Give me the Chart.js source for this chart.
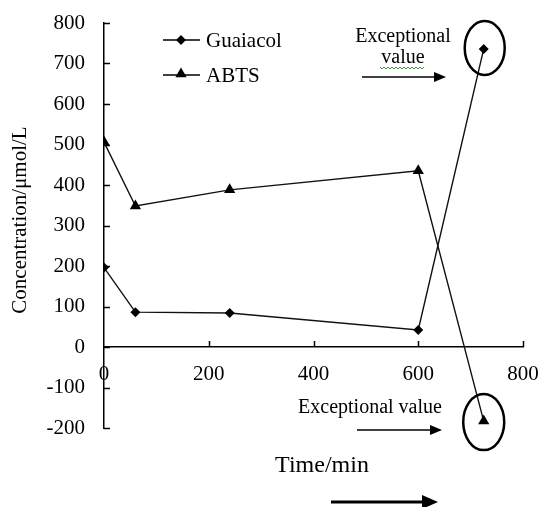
<!DOCTYPE html>
<html>
<head>
<meta charset="utf-8">
<script src="https://cdn.jsdelivr.net/npm/chart.js@4"></script>
<style>
  html, body { margin: 0; padding: 0; background: #fff; }
  #wrap { width: 540px; height: 507px; }
</style>
</head>
<body>
<div id="wrap"><canvas id="myChart" width="540" height="507"></canvas></div>
<script>
// time points (min) and concentrations (umol/L)
const times = [0, 60, 240, 600, 725];
const guaiacol = [196, 86, 84, 42, 736];
const abts = [506, 348, 388, 435, -183];
const seriesNames = ['Guaiacol', 'ABTS'];
const xTicks = [0, 200, 400, 600, 800];
const yTicks = [-200, -100, 0, 100, 200, 300, 400, 500, 600, 700, 800];

const serif = "'Liberation Serif', 'Times New Roman', serif";
const ctx = document.getElementById('myChart');

function toPoints(vals) {
    return vals.map((v, i) => ({ x: times[i], y: v }));
}

function line(c, x1, y1, x2, y2) {
    c.beginPath();
    c.moveTo(x1, y1);
    c.lineTo(x2, y2);
    c.stroke();
}

function arrow(c, x1, x2, y, w, head, hh) {
    c.lineWidth = w;
    line(c, x1, y, x2 - head + 1, y);
    c.beginPath();
    c.moveTo(x2, y);
    c.lineTo(x2 - head, y - hh);
    c.lineTo(x2 - head, y + hh);
    c.closePath();
    c.fill();
}

function diamond(c, x, y, r) {
    c.beginPath();
    c.moveTo(x, y - r);
    c.lineTo(x + r, y);
    c.lineTo(x, y + r);
    c.lineTo(x - r, y);
    c.closePath();
    c.fill();
}

function triangle(c, x, y, r) {
    c.beginPath();
    c.moveTo(x, y - r);
    c.lineTo(x + r * 0.87, y + r * 0.5);
    c.lineTo(x - r * 0.87, y + r * 0.5);
    c.closePath();
    c.fill();
}

const extras = {
    id: 'extras',
    afterDraw(chart) {
        const c = chart.ctx;
        const x = chart.scales.x;
        const y = chart.scales.y;
        c.save();
        c.strokeStyle = '#000';
        c.fillStyle = '#000';
        c.lineWidth = 1.5;

        // inside tick marks
        yTicks.forEach(v => {
            const py = Math.round(y.getPixelForValue(v)) + 0.5;
            line(c, x.left, py, x.left + 6, py);
        });
        const y0 = y.getPixelForValue(0);
        xTicks.forEach(v => {
            if (v === 0) return;
            const px = Math.round(x.getPixelForValue(v)) + 0.5;
            line(c, px, y0, px, y0 - 6);
        });

        // legend
        c.lineWidth = 1.5;
        line(c, 163, 40, 200, 40);
        diamond(c, 181, 40, 5);
        line(c, 163, 75, 200, 75);
        triangle(c, 181, 74, 6.5);
        c.font = '21px ' + serif;
        c.textBaseline = 'middle';
        c.textAlign = 'left';
        c.fillText(seriesNames[0], 206, 41);
        c.fillText(seriesNames[1], 206, 76);

        // axis titles
        c.font = '24px ' + serif;
        c.textAlign = 'center';
        c.fillText('Time/min', 322, 466);
        c.save();
        c.translate(20, 220);
        c.rotate(-Math.PI / 2);
        c.font = '21px ' + serif;
        c.fillText('Concentration/\u03bcmol/L', 0, 0);
        c.restore();

        // exceptional value notes
        c.font = '20px ' + serif;
        c.fillText('Exceptional', 403, 37);
        c.fillText('value', 403, 58);
        c.fillText('Exceptional value', 370, 408);

        c.strokeStyle = '#3a9a3a';
        c.lineWidth = 1;
        c.beginPath();
        for (let px = 380; px <= 424; px += 2) {
            const py = 68 + ((px / 2) % 2 === 0 ? -1 : 1);
            if (px === 380) c.moveTo(px, py); else c.lineTo(px, py);
        }
        c.stroke();

        c.strokeStyle = '#000';
        arrow(c, 362, 446, 77, 1.5, 12, 5);
        arrow(c, 357, 442, 430, 1.5, 12, 5);
        arrow(c, 331, 438, 502, 3, 16, 7);

        // circles round the odd points
        c.lineWidth = 2.5;
        const ex = x.getPixelForValue(times[4]);
        c.beginPath();
        c.ellipse(ex + 1, y.getPixelForValue(guaiacol[4]) - 1, 20, 27, 0, 0, Math.PI * 2);
        c.stroke();
        c.beginPath();
        c.ellipse(ex, y.getPixelForValue(abts[4]) + 1, 20.5, 28, 0, 0, Math.PI * 2);
        c.stroke();

        c.restore();
    }
};

let myChart = new Chart(ctx, {
    type: 'scatter',
    data: {
        datasets: [{
            label: seriesNames[0],
            data: toPoints(guaiacol),
            showLine: true,
            borderColor: '#111',
            backgroundColor: '#000',
            borderWidth: 1.4,
            pointStyle: 'rectRot',
            pointRadius: 5,
            pointBorderWidth: 0
        }, {
            label: seriesNames[1],
            data: toPoints(abts),
            showLine: true,
            borderColor: '#111',
            backgroundColor: '#000',
            borderWidth: 1.4,
            pointStyle: 'triangle',
            pointRadius: 6.5,
            pointBorderWidth: 0
        }]
    },
    options: {
        responsive: false,
        animation: false,
        events: [],
        layout: { padding: { left: 0, right: 17, top: 23, bottom: 79 } },
        plugins: {
            legend: { display: false },
            tooltip: { enabled: false }
        },
        scales: {
            x: {
                type: 'linear',
                position: { y: 0 },
                min: 0,
                max: 800,
                afterBuildTicks: s => { s.ticks = xTicks.map(v => ({ value: v })); },
                afterFit: s => { s.paddingLeft = 0; s.paddingRight = 0; },
                grid: { display: false, drawTicks: false },
                border: { display: true, color: '#000', width: 1.5 },
                ticks: { color: '#000', padding: 15, maxRotation: 0, font: { family: serif, size: 21 } }
            },
            y: {
                type: 'linear',
                position: 'left',
                min: -200,
                max: 800,
                afterBuildTicks: s => { s.ticks = yTicks.map(v => ({ value: v })); },
                afterFit: s => { s.width = 104; s.paddingTop = 0; s.paddingBottom = 0; },
                grid: { display: false, drawTicks: false },
                border: { display: true, color: '#000', width: 1.5 },
                ticks: { color: '#000', padding: 19, font: { family: serif, size: 21 } }
            }
        }
    },
    plugins: [extras]
});
</script>
</body>
</html>
